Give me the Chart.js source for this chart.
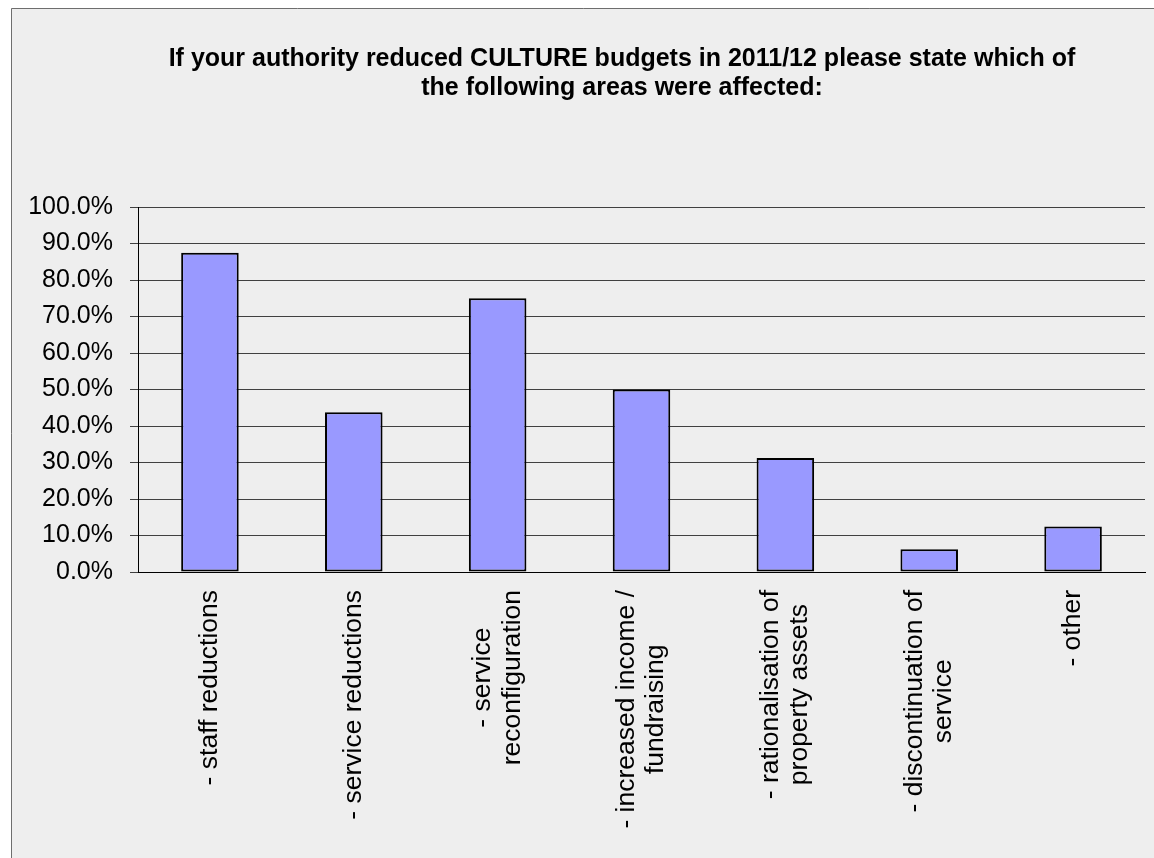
<!DOCTYPE html>
<html>
<head>
<meta charset="utf-8">
<title>Culture budget reductions 2011/12</title>
<script src="https://cdn.jsdelivr.net/npm/chart.js@4/dist/chart.umd.min.js"></script>
<style>
  html, body { margin: 0; padding: 0; background: #ffffff; }
  #chart { display: block; }
</style>
</head>
<body>
<canvas id="chart" width="1154" height="858"></canvas>
<script>
// Survey question shown as the chart title
const titleLines = [
  'If your authority reduced CULTURE budgets in 2011/12 please state which of',
  'the following areas were affected:'
];

// Areas affected (multi-line labels are arrays of lines)
const categories = [
  '- staff reductions',
  '- service reductions',
  ['- service', 'reconfiguration'],
  ['- increased income /', 'fundraising'],
  ['- rationalisation of', 'property assets'],
  ['- discontinuation of', 'service'],
  '- other'
];

// Share of responding authorities (%)
const shares = [87.5, 43.75, 75, 50, 31.25, 6.25, 12.5];

// Value axis range
const axisMin = 0;
const axisMax = 100;
const axisStep = 10;

const FONT = '"Liberation Sans", Arial, sans-serif';

// Category axis whose rotated labels are centred line by line,
// with the block of lines centred on the tick and hanging below the axis.
class CenteredLabelScale extends Chart.CategoryScale {
  _computeLabelItems(chartArea) {
    const items = super._computeLabelItems(chartArea);
    const ctx = this.ctx;
    items.forEach(item => {
      const lines = Array.isArray(item.label) ? item.label : [item.label];
      ctx.save();
      ctx.font = item.font.string;
      const w = Math.max(...lines.map(l => ctx.measureText(l).width));
      ctx.restore();
      const lh = item.font.lineHeight;
      const [x, y] = item.options.translation;
      item.options.textAlign = 'center';
      item.options.translation = [x - (lines.length - 1) * lh / 2, y + w / 2];
    });
    return items;
  }
}
CenteredLabelScale.id = 'centeredCategory';
CenteredLabelScale.defaults = Chart.CategoryScale.defaults;

// Value axis whose tick labels may extend past the axis box on the left
class OpenLinearScale extends Chart.LinearScale {
  _computeLabelArea() { return undefined; }
}
OpenLinearScale.id = 'openLinear';
OpenLinearScale.defaults = Chart.LinearScale.defaults;

Chart.register(CenteredLabelScale, OpenLinearScale);

// Grey panel with a thin frame behind the whole chart
const panelBackground = {
  id: 'panelBackground',
  beforeDraw(chart) {
    const ctx = chart.ctx;
    ctx.save();
    ctx.fillStyle = '#ffffff';
    ctx.fillRect(0, 0, chart.width, chart.height);
    ctx.fillStyle = '#eeeeee';
    ctx.fillRect(11, 8, chart.width, chart.height);
    ctx.strokeStyle = '#6e6e6e';
    ctx.lineWidth = 1;
    ctx.beginPath();
    ctx.moveTo(11.5, chart.height + 2);
    ctx.lineTo(11.5, 8.5);
    ctx.lineTo(chart.width + 2, 8.5);
    ctx.stroke();
    ctx.restore();
  }
};

new Chart(document.getElementById('chart'), {
  type: 'bar',
  data: {
    labels: categories,
    datasets: [{
      data: shares,
      backgroundColor: '#9999ff',
      borderColor: '#000000',
      borderWidth: 2,
      borderSkipped: false,
      barPercentage: 0.4,
      categoryPercentage: 1.0
    }]
  },
  options: {
    responsive: false,
    devicePixelRatio: 1,
    animation: false,
    layout: { padding: { left: 99, right: 9, top: 0, bottom: 0 } },
    plugins: {
      legend: { display: false },
      tooltip: { enabled: false },
      title: {
        display: true,
        text: titleLines,
        color: '#000000',
        font: { family: FONT, size: 25, weight: 'bold', lineHeight: 1.16 },
        padding: { top: 45, bottom: 104 }
      }
    },
    scales: {
      x: {
        type: 'centeredCategory',
        offset: true,
        grid: { display: false, offset: true },
        border: { display: true, color: '#000000', width: 1 },
        ticks: {
          autoSkip: false,
          minRotation: 90,
          maxRotation: 90,
          padding: 10,
          color: '#000000',
          font: { family: FONT, size: 26.5, lineHeight: 1.1 }
        },
        afterFit(scale) { scale.height = 286; }
      },
      y: {
        type: 'openLinear',
        min: axisMin,
        max: axisMax,
        grid: {
          color: '#404040',
          lineWidth: 1,
          tickLength: 8,
          drawTicks: true
        },
        border: { display: true, color: '#000000', width: 1 },
        ticks: {
          stepSize: axisStep,
          padding: 17,
          color: '#000000',
          font: { family: FONT, size: 25 },
          callback: v => v.toFixed(1) + '%'
        },
        afterFit(scale) { scale.width = 39; }
      }
    }
  },
  plugins: [panelBackground]
});
</script>
</body>
</html>
